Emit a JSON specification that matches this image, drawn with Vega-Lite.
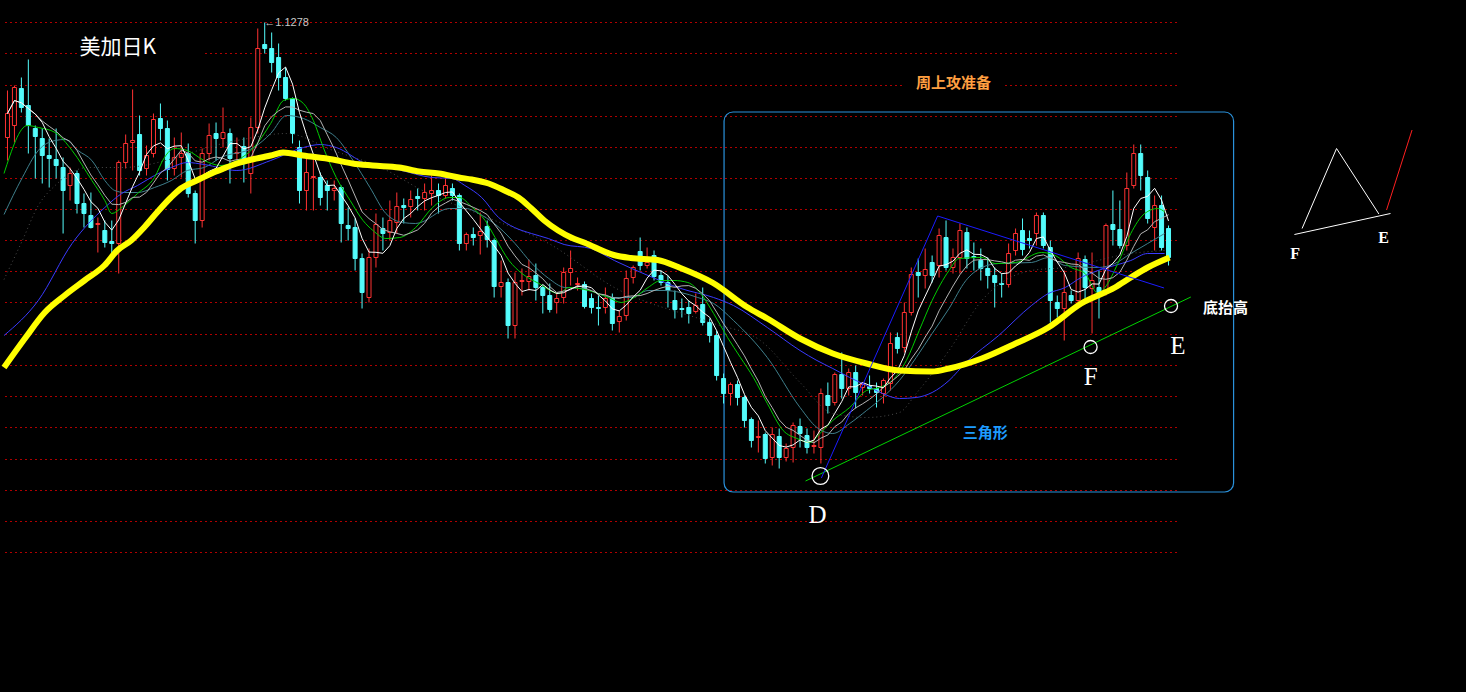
{
  "$schema": "https://vega.github.io/schema/vega-lite/v6.json",
  "width": 1466,
  "height": 692,
  "padding": 0,
  "autosize": {"type": "fit", "contains": "padding"},
  "background": "#000000",
  "config": {"view": {"stroke": null}},
  "resolve": {"scale": {"color": "independent"}},
  "datasets": {
    "candles": [
      {"i":0,"o":1.1048,"h":1.1142,"l":1.1002,"c":1.1096},
      {"i":1,"o":1.1072,"h":1.1152,"l":1.1038,"c":1.1148},
      {"i":2,"o":1.1146,"h":1.1168,"l":1.1098,"c":1.1108},
      {"i":3,"o":1.1112,"h":1.1204,"l":1.1016,"c":1.1072},
      {"i":4,"o":1.1066,"h":1.1072,"l":1.0966,"c":1.1050},
      {"i":5,"o":1.1046,"h":1.1066,"l":1.0956,"c":1.1012},
      {"i":6,"o":1.1012,"h":1.1046,"l":1.0948,"c":1.1006},
      {"i":7,"o":1.1004,"h":1.1066,"l":1.0966,"c":1.0992},
      {"i":8,"o":1.0988,"h":1.1008,"l":1.0856,"c":1.0942},
      {"i":9,"o":1.0952,"h":1.0988,"l":1.0922,"c":1.0976},
      {"i":10,"o":1.0976,"h":1.0982,"l":1.0896,"c":1.0916},
      {"i":11,"o":1.0916,"h":1.0936,"l":1.0868,"c":1.0896},
      {"i":12,"o":1.0892,"h":1.0938,"l":1.0866,"c":1.0868},
      {"i":13,"o":1.0874,"h":1.0888,"l":1.0818,"c":1.0876},
      {"i":14,"o":1.0862,"h":1.0882,"l":1.0828,"c":1.0838},
      {"i":15,"o":1.0840,"h":1.0882,"l":1.0816,"c":1.0836},
      {"i":16,"o":1.0836,"h":1.1002,"l":1.0776,"c":1.0998},
      {"i":17,"o":1.0998,"h":1.1054,"l":1.0986,"c":1.1036},
      {"i":18,"o":1.1038,"h":1.1144,"l":1.0982,"c":1.1042},
      {"i":19,"o":1.1054,"h":1.1092,"l":1.0972,"c":1.0982},
      {"i":20,"o":1.0986,"h":1.1032,"l":1.0972,"c":1.1012},
      {"i":21,"o":1.1016,"h":1.1096,"l":1.1008,"c":1.1084},
      {"i":22,"o":1.1086,"h":1.1116,"l":1.1042,"c":1.1066},
      {"i":23,"o":1.1066,"h":1.1082,"l":1.0962,"c":1.0984},
      {"i":24,"o":1.0986,"h":1.1048,"l":1.0972,"c":1.1008},
      {"i":25,"o":1.1008,"h":1.1058,"l":1.0968,"c":1.1016},
      {"i":26,"o":1.1016,"h":1.1036,"l":1.0928,"c":1.0936},
      {"i":27,"o":1.0936,"h":1.0942,"l":1.0836,"c":1.0882},
      {"i":28,"o":1.0882,"h":1.1026,"l":1.0868,"c":1.1016},
      {"i":29,"o":1.1016,"h":1.1076,"l":1.1002,"c":1.1052},
      {"i":30,"o":1.1056,"h":1.1078,"l":1.1002,"c":1.1046},
      {"i":31,"o":1.1046,"h":1.1108,"l":1.1028,"c":1.1058},
      {"i":32,"o":1.1056,"h":1.1066,"l":1.0956,"c":1.1006},
      {"i":33,"o":1.1016,"h":1.1048,"l":1.1002,"c":1.1018},
      {"i":34,"o":1.1030,"h":1.1048,"l":1.0958,"c":1.0998},
      {"i":35,"o":1.0976,"h":1.1088,"l":1.0936,"c":1.1068},
      {"i":36,"o":1.1068,"h":1.1266,"l":1.1056,"c":1.1226},
      {"i":37,"o":1.1234,"h":1.1278,"l":1.1216,"c":1.1226},
      {"i":38,"o":1.1226,"h":1.1258,"l":1.1178,"c":1.1198},
      {"i":39,"o":1.1208,"h":1.1236,"l":1.1142,"c":1.1168},
      {"i":40,"o":1.1168,"h":1.1188,"l":1.1122,"c":1.1126},
      {"i":41,"o":1.1126,"h":1.1128,"l":1.1036,"c":1.1056},
      {"i":42,"o":1.1028,"h":1.1042,"l":1.0916,"c":1.0942},
      {"i":43,"o":1.0942,"h":1.1016,"l":1.0902,"c":1.0978},
      {"i":44,"o":1.0968,"h":1.1012,"l":1.0902,"c":1.0970},
      {"i":45,"o":1.0968,"h":1.0978,"l":1.0912,"c":1.0928},
      {"i":46,"o":1.0952,"h":1.0962,"l":1.0902,"c":1.0942},
      {"i":47,"o":1.0942,"h":1.0962,"l":1.0922,"c":1.0946},
      {"i":48,"o":1.0948,"h":1.0952,"l":1.0838,"c":1.0876},
      {"i":49,"o":1.0872,"h":1.0908,"l":1.0842,"c":1.0866},
      {"i":50,"o":1.0868,"h":1.0886,"l":1.0782,"c":1.0806},
      {"i":51,"o":1.0806,"h":1.0816,"l":1.0706,"c":1.0738},
      {"i":52,"o":1.0728,"h":1.0826,"l":1.0718,"c":1.0808},
      {"i":53,"o":1.0808,"h":1.0896,"l":1.0788,"c":1.0874},
      {"i":54,"o":1.0866,"h":1.0888,"l":1.0822,"c":1.0856},
      {"i":55,"o":1.0858,"h":1.0922,"l":1.0842,"c":1.0882},
      {"i":56,"o":1.0878,"h":1.0938,"l":1.0856,"c":1.0910},
      {"i":57,"o":1.0912,"h":1.0926,"l":1.0876,"c":1.0908},
      {"i":58,"o":1.0910,"h":1.0942,"l":1.0888,"c":1.0924},
      {"i":59,"o":1.0930,"h":1.0946,"l":1.0902,"c":1.0926},
      {"i":60,"o":1.0926,"h":1.0956,"l":1.0902,"c":1.0938},
      {"i":61,"o":1.0936,"h":1.0972,"l":1.0912,"c":1.0942},
      {"i":62,"o":1.0942,"h":1.0956,"l":1.0896,"c":1.0932},
      {"i":63,"o":1.0932,"h":1.0966,"l":1.0926,"c":1.0952},
      {"i":64,"o":1.0946,"h":1.0956,"l":1.0922,"c":1.0932},
      {"i":65,"o":1.0932,"h":1.0936,"l":1.0822,"c":1.0836},
      {"i":66,"o":1.0836,"h":1.0858,"l":1.0822,"c":1.0854},
      {"i":67,"o":1.0854,"h":1.0868,"l":1.0832,"c":1.0848},
      {"i":68,"o":1.0852,"h":1.0898,"l":1.0814,"c":1.0860},
      {"i":69,"o":1.0870,"h":1.0882,"l":1.0828,"c":1.0844},
      {"i":70,"o":1.0842,"h":1.0846,"l":1.0728,"c":1.0750},
      {"i":71,"o":1.0750,"h":1.0802,"l":1.0728,"c":1.0758},
      {"i":72,"o":1.0758,"h":1.0766,"l":1.0646,"c":1.0672},
      {"i":73,"o":1.0672,"h":1.0778,"l":1.0646,"c":1.0758},
      {"i":74,"o":1.0760,"h":1.0786,"l":1.0732,"c":1.0762},
      {"i":75,"o":1.0760,"h":1.0804,"l":1.0742,"c":1.0770},
      {"i":76,"o":1.0772,"h":1.0796,"l":1.0722,"c":1.0748},
      {"i":77,"o":1.0748,"h":1.0752,"l":1.0696,"c":1.0732},
      {"i":78,"o":1.0732,"h":1.0756,"l":1.0698,"c":1.0704},
      {"i":79,"o":1.0718,"h":1.0738,"l":1.0696,"c":1.0726},
      {"i":80,"o":1.0728,"h":1.0788,"l":1.0716,"c":1.0778},
      {"i":81,"o":1.0778,"h":1.0822,"l":1.0752,"c":1.0786},
      {"i":82,"o":1.0754,"h":1.0768,"l":1.0742,"c":1.0756},
      {"i":83,"o":1.0754,"h":1.0760,"l":1.0706,"c":1.0710},
      {"i":84,"o":1.0726,"h":1.0736,"l":1.0696,"c":1.0708},
      {"i":85,"o":1.0708,"h":1.0732,"l":1.0672,"c":1.0706},
      {"i":86,"o":1.0708,"h":1.0748,"l":1.0696,"c":1.0726},
      {"i":87,"o":1.0728,"h":1.0736,"l":1.0662,"c":1.0676},
      {"i":88,"o":1.0680,"h":1.0702,"l":1.0658,"c":1.0690},
      {"i":89,"o":1.0692,"h":1.0782,"l":1.0682,"c":1.0766},
      {"i":90,"o":1.0768,"h":1.0792,"l":1.0756,"c":1.0788},
      {"i":91,"o":1.0820,"h":1.0848,"l":1.0782,"c":1.0792},
      {"i":92,"o":1.0792,"h":1.0828,"l":1.0786,"c":1.0798},
      {"i":93,"o":1.0812,"h":1.0822,"l":1.0762,"c":1.0770},
      {"i":94,"o":1.0772,"h":1.0782,"l":1.0752,"c":1.0758},
      {"i":95,"o":1.0758,"h":1.0772,"l":1.0708,"c":1.0742},
      {"i":96,"o":1.0722,"h":1.0742,"l":1.0686,"c":1.0704},
      {"i":97,"o":1.0706,"h":1.0726,"l":1.0688,"c":1.0704},
      {"i":98,"o":1.0708,"h":1.0722,"l":1.0676,"c":1.0696},
      {"i":99,"o":1.0700,"h":1.0736,"l":1.0696,"c":1.0712},
      {"i":100,"o":1.0714,"h":1.0748,"l":1.0672,"c":1.0678},
      {"i":101,"o":1.0678,"h":1.0686,"l":1.0638,"c":1.0652},
      {"i":102,"o":1.0652,"h":1.0662,"l":1.0562,"c":1.0572},
      {"i":103,"o":1.0566,"h":1.0576,"l":1.0516,"c":1.0536},
      {"i":104,"o":1.0536,"h":1.0558,"l":1.0512,"c":1.0554},
      {"i":105,"o":1.0554,"h":1.0562,"l":1.0512,"c":1.0528},
      {"i":106,"o":1.0528,"h":1.0532,"l":1.0468,"c":1.0482},
      {"i":107,"o":1.0484,"h":1.0488,"l":1.0428,"c":1.0442},
      {"i":108,"o":1.0448,"h":1.0482,"l":1.0418,"c":1.0450},
      {"i":109,"o":1.0454,"h":1.0458,"l":1.0396,"c":1.0406},
      {"i":110,"o":1.0408,"h":1.0468,"l":1.0392,"c":1.0454},
      {"i":111,"o":1.0450,"h":1.0466,"l":1.0386,"c":1.0408},
      {"i":112,"o":1.0408,"h":1.0436,"l":1.0400,"c":1.0426},
      {"i":113,"o":1.0428,"h":1.0478,"l":1.0398,"c":1.0472},
      {"i":114,"o":1.0470,"h":1.0486,"l":1.0428,"c":1.0456},
      {"i":115,"o":1.0452,"h":1.0466,"l":1.0416,"c":1.0428},
      {"i":116,"o":1.0430,"h":1.0462,"l":1.0416,"c":1.0432},
      {"i":117,"o":1.0428,"h":1.0546,"l":1.0396,"c":1.0536},
      {"i":118,"o":1.0532,"h":1.0558,"l":1.0496,"c":1.0512},
      {"i":119,"o":1.0518,"h":1.0578,"l":1.0512,"c":1.0574},
      {"i":120,"o":1.0574,"h":1.0618,"l":1.0526,"c":1.0546},
      {"i":121,"o":1.0546,"h":1.0586,"l":1.0532,"c":1.0578},
      {"i":122,"o":1.0578,"h":1.0592,"l":1.0506,"c":1.0538},
      {"i":123,"o":1.0548,"h":1.0558,"l":1.0532,"c":1.0554},
      {"i":124,"o":1.0550,"h":1.0572,"l":1.0536,"c":1.0546},
      {"i":125,"o":1.0546,"h":1.0558,"l":1.0508,"c":1.0538},
      {"i":126,"o":1.0536,"h":1.0566,"l":1.0516,"c":1.0562},
      {"i":127,"o":1.0556,"h":1.0658,"l":1.0542,"c":1.0636},
      {"i":128,"o":1.0648,"h":1.0658,"l":1.0616,"c":1.0626},
      {"i":129,"o":1.0628,"h":1.0718,"l":1.0618,"c":1.0698},
      {"i":130,"o":1.0698,"h":1.0788,"l":1.0692,"c":1.0774},
      {"i":131,"o":1.0778,"h":1.0806,"l":1.0728,"c":1.0772},
      {"i":132,"o":1.0772,"h":1.0826,"l":1.0746,"c":1.0784},
      {"i":133,"o":1.0798,"h":1.0812,"l":1.0758,"c":1.0772},
      {"i":134,"o":1.0792,"h":1.0866,"l":1.0768,"c":1.0852},
      {"i":135,"o":1.0848,"h":1.0882,"l":1.0782,"c":1.0788},
      {"i":136,"o":1.0788,"h":1.0826,"l":1.0776,"c":1.0808},
      {"i":137,"o":1.0808,"h":1.0876,"l":1.0776,"c":1.0862},
      {"i":138,"o":1.0858,"h":1.0868,"l":1.0786,"c":1.0806},
      {"i":139,"o":1.0810,"h":1.0838,"l":1.0782,"c":1.0808},
      {"i":140,"o":1.0802,"h":1.0826,"l":1.0762,"c":1.0786},
      {"i":141,"o":1.0786,"h":1.0808,"l":1.0746,"c":1.0772},
      {"i":142,"o":1.0772,"h":1.0788,"l":1.0708,"c":1.0758},
      {"i":143,"o":1.0756,"h":1.0776,"l":1.0728,"c":1.0754},
      {"i":144,"o":1.0754,"h":1.0836,"l":1.0748,"c":1.0816},
      {"i":145,"o":1.0822,"h":1.0866,"l":1.0812,"c":1.0856},
      {"i":146,"o":1.0862,"h":1.0886,"l":1.0812,"c":1.0824},
      {"i":147,"o":1.0846,"h":1.0862,"l":1.0826,"c":1.0842},
      {"i":148,"o":1.0856,"h":1.0898,"l":1.0832,"c":1.0892},
      {"i":149,"o":1.0892,"h":1.0898,"l":1.0826,"c":1.0832},
      {"i":150,"o":1.0828,"h":1.0842,"l":1.0678,"c":1.0722},
      {"i":151,"o":1.0718,"h":1.0732,"l":1.0688,"c":1.0706},
      {"i":152,"o":1.0706,"h":1.0782,"l":1.0642,"c":1.0738},
      {"i":153,"o":1.0732,"h":1.0742,"l":1.0716,"c":1.0722},
      {"i":154,"o":1.0722,"h":1.0818,"l":1.0716,"c":1.0806},
      {"i":155,"o":1.0804,"h":1.0812,"l":1.0716,"c":1.0748},
      {"i":156,"o":1.0746,"h":1.0818,"l":1.0656,"c":1.0762},
      {"i":157,"o":1.0748,"h":1.0782,"l":1.0686,"c":1.0736},
      {"i":158,"o":1.0742,"h":1.0876,"l":1.0732,"c":1.0872},
      {"i":159,"o":1.0874,"h":1.0942,"l":1.0832,"c":1.0864},
      {"i":160,"o":1.0864,"h":1.0922,"l":1.0826,"c":1.0832},
      {"i":161,"o":1.0832,"h":1.0978,"l":1.0822,"c":1.0946},
      {"i":162,"o":1.0952,"h":1.1034,"l":1.0946,"c":1.1016},
      {"i":163,"o":1.1016,"h":1.1034,"l":1.0942,"c":1.0972},
      {"i":164,"o":1.0968,"h":1.0982,"l":1.0876,"c":1.0886},
      {"i":165,"o":1.0868,"h":1.0932,"l":1.0822,"c":1.0912},
      {"i":166,"o":1.0912,"h":1.0932,"l":1.0822,"c":1.0828},
      {"i":167,"o":1.0866,"h":1.0872,"l":1.0792,"c":1.0808}
    ],
    "ma": [
      {"s":"y","i":-0.5,"p":1.0588},{"s":"y","i":2.5,"p":1.0646},{"s":"y","i":5.36,"p":1.0698},{"s":"y","i":8.21,"p":1.0732},{"s":"y","i":11.07,"p":1.0762},{"s":"y","i":13.93,"p":1.0792},{"s":"y","i":15.79,"p":1.0822},{"s":"y","i":17.79,"p":1.0842},{"s":"y","i":19.64,"p":1.0868},{"s":"y","i":21.5,"p":1.0898},{"s":"y","i":23.5,"p":1.0928},{"s":"y","i":24.93,"p":1.0946},{"s":"y","i":27.21,"p":1.0962},{"s":"y","i":29.64,"p":1.0978},{"s":"y","i":31.07,"p":1.0986},{"s":"y","i":33,"p":1.0996},{"s":"y","i":37.86,"p":1.1012},{"s":"y","i":39.64,"p":1.1018},{"s":"y","i":42.5,"p":1.1012},{"s":"y","i":46.79,"p":1.1004},{"s":"y","i":49.64,"p":1.0996},{"s":"y","i":52.5,"p":1.0992},{"s":"y","i":56.36,"p":1.0988},{"s":"y","i":59.21,"p":1.0980},{"s":"y","i":62.07,"p":1.0976},{"s":"y","i":64.93,"p":1.0968},{"s":"y","i":66.79,"p":1.0964},{"s":"y","i":69.21,"p":1.0956},{"s":"y","i":71.5,"p":1.0942},{"s":"y","i":73.5,"p":1.0928},{"s":"y","i":75.36,"p":1.0906},{"s":"y","i":77.21,"p":1.0882},{"s":"y","i":79.21,"p":1.0862},{"s":"y","i":81.07,"p":1.0848},{"s":"y","i":82.93,"p":1.0838},{"s":"y","i":87.21,"p":1.0813},{"s":"y","i":89.64,"p":1.0807},{"s":"y","i":93.5,"p":1.0803},{"s":"y","i":96.79,"p":1.0787},{"s":"y","i":101.5,"p":1.0757},{"s":"y","i":106.36,"p":1.0709},{"s":"y","i":109.29,"p":1.0686},{"s":"y","i":114,"p":1.0646},{"s":"y","i":118.71,"p":1.0616},{"s":"y","i":123.57,"p":1.0596},{"s":"y","i":128.29,"p":1.0582},{"s":"y","i":133,"p":1.0580},{"s":"y","i":135.43,"p":1.0586},{"s":"y","i":140.14,"p":1.0606},{"s":"y","i":145,"p":1.0636},{"s":"y","i":149.71,"p":1.0668},{"s":"y","i":154.43,"p":1.0716},{"s":"y","i":159.29,"p":1.0748},{"s":"y","i":161.57,"p":1.0768},{"s":"y","i":164,"p":1.0788},{"s":"y","i":167.14,"p":1.0808},
      {"s":"b","i":-0.5,"p":1.0652},{"s":"b","i":4.43,"p":1.0722},{"s":"b","i":9.29,"p":1.0836},{"s":"b","i":14,"p":1.0908},{"s":"b","i":16.43,"p":1.0936},{"s":"b","i":18.71,"p":1.0952},{"s":"b","i":21.14,"p":1.0972},{"s":"b","i":23.57,"p":1.0988},{"s":"b","i":25.86,"p":1.0998},{"s":"b","i":28.29,"p":1.0994},{"s":"b","i":33,"p":1.0982},{"s":"b","i":37.86,"p":1.1002},{"s":"b","i":42.57,"p":1.1028},{"s":"b","i":45,"p":1.1034},{"s":"b","i":47.29,"p":1.1028},{"s":"b","i":51.5,"p":1.0996},{"s":"b","i":56.36,"p":1.0983},{"s":"b","i":61.07,"p":1.0968},{"s":"b","i":63.93,"p":1.0966},{"s":"b","i":65.79,"p":1.0952},{"s":"b","i":68.21,"p":1.0928},{"s":"b","i":70.64,"p":1.0888},{"s":"b","i":72.93,"p":1.0868},{"s":"b","i":75.36,"p":1.0856},{"s":"b","i":77.79,"p":1.0846},{"s":"b","i":80.07,"p":1.0834},{"s":"b","i":83.93,"p":1.0826},{"s":"b","i":87.29,"p":1.0802},{"s":"b","i":92.14,"p":1.0772},{"s":"b","i":96.86,"p":1.0746},{"s":"b","i":101.57,"p":1.0728},{"s":"b","i":104.43,"p":1.0712},{"s":"b","i":109.29,"p":1.0668},{"s":"b","i":114,"p":1.0622},{"s":"b","i":116.43,"p":1.0602},{"s":"b","i":118.71,"p":1.0586},{"s":"b","i":121.14,"p":1.0568},{"s":"b","i":123.57,"p":1.0552},{"s":"b","i":125.86,"p":1.0536},{"s":"b","i":128.29,"p":1.0526},{"s":"b","i":130.71,"p":1.0528},{"s":"b","i":133,"p":1.0538},{"s":"b","i":135.43,"p":1.0562},{"s":"b","i":137.86,"p":1.0598},{"s":"b","i":142.57,"p":1.0652},{"s":"b","i":147.29,"p":1.0712},{"s":"b","i":149.71,"p":1.0736},{"s":"b","i":152.14,"p":1.0748},{"s":"b","i":154.43,"p":1.0768},{"s":"b","i":156.86,"p":1.0782},{"s":"b","i":161.57,"p":1.0802},{"s":"b","i":164,"p":1.0816},{"s":"b","i":166.43,"p":1.0816},
      {"s":"g","i":-0.5,"p":1.0976},{"s":"g","i":2.86,"p":1.1072},{"s":"g","i":4.43,"p":1.1068},{"s":"g","i":6.86,"p":1.1058},{"s":"g","i":9.29,"p":1.1022},{"s":"g","i":12.14,"p":1.0962},{"s":"g","i":14,"p":1.0922},{"s":"g","i":15,"p":1.0896},{"s":"g","i":16.43,"p":1.0908},{"s":"g","i":18.71,"p":1.0936},{"s":"g","i":21.14,"p":1.0968},{"s":"g","i":22.57,"p":1.1008},{"s":"g","i":24,"p":1.1026},{"s":"g","i":25.86,"p":1.1022},{"s":"g","i":28.29,"p":1.1002},{"s":"g","i":30.71,"p":1.0992},{"s":"g","i":33,"p":1.1002},{"s":"g","i":35.43,"p":1.1028},{"s":"g","i":37.86,"p":1.1076},{"s":"g","i":39.71,"p":1.1122},{"s":"g","i":41.14,"p":1.1126},{"s":"g","i":42.57,"p":1.1116},{"s":"g","i":44,"p":1.1082},{"s":"g","i":45.43,"p":1.1028},{"s":"g","i":47.29,"p":1.0968},{"s":"g","i":49.29,"p":1.0922},{"s":"g","i":51.14,"p":1.0882},{"s":"g","i":52.57,"p":1.0862},{"s":"g","i":54.43,"p":1.0846},{"s":"g","i":56.43,"p":1.0848},{"s":"g","i":58.71,"p":1.0868},{"s":"g","i":61.14,"p":1.0908},{"s":"g","i":63.57,"p":1.0928},{"s":"g","i":65,"p":1.0928},{"s":"g","i":66.86,"p":1.0908},{"s":"g","i":68.71,"p":1.0882},{"s":"g","i":70.14,"p":1.0848},{"s":"g","i":72.14,"p":1.0802},{"s":"g","i":74,"p":1.0776},{"s":"g","i":76.43,"p":1.0756},{"s":"g","i":79.29,"p":1.0736},{"s":"g","i":80.71,"p":1.0748},{"s":"g","i":83.57,"p":1.0742},{"s":"g","i":86.43,"p":1.0728},{"s":"g","i":88.29,"p":1.0718},{"s":"g","i":90.14,"p":1.0728},{"s":"g","i":92.14,"p":1.0748},{"s":"g","i":94,"p":1.0762},{"s":"g","i":95.86,"p":1.0762},{"s":"g","i":97.86,"p":1.0758},{"s":"g","i":99.71,"p":1.0736},{"s":"g","i":101.57,"p":1.0696},{"s":"g","i":103.57,"p":1.0648},{"s":"g","i":105.43,"p":1.0608},{"s":"g","i":107.29,"p":1.0568},{"s":"g","i":109.29,"p":1.0516},{"s":"g","i":111.57,"p":1.0462},{"s":"g","i":113.57,"p":1.0446},{"s":"g","i":115.43,"p":1.0438},{"s":"g","i":116.86,"p":1.0456},{"s":"g","i":118.71,"p":1.0482},{"s":"g","i":121.14,"p":1.0508},{"s":"g","i":123.57,"p":1.0542},{"s":"g","i":125.43,"p":1.0548},{"s":"g","i":127.29,"p":1.0562},{"s":"g","i":129.29,"p":1.0602},{"s":"g","i":131.14,"p":1.0662},{"s":"g","i":133,"p":1.0722},{"s":"g","i":135.43,"p":1.0782},{"s":"g","i":136.86,"p":1.0806},{"s":"g","i":140.14,"p":1.0808},{"s":"g","i":142.14,"p":1.0796},{"s":"g","i":145,"p":1.0798},{"s":"g","i":148.71,"p":1.0818},{"s":"g","i":150.71,"p":1.0812},{"s":"g","i":153,"p":1.0788},{"s":"g","i":155,"p":1.0776},{"s":"g","i":156.86,"p":1.0736},{"s":"g","i":157.86,"p":1.0748},{"s":"g","i":159.71,"p":1.0796},{"s":"g","i":161.57,"p":1.0856},{"s":"g","i":163.57,"p":1.0896},{"s":"g","i":165.43,"p":1.0906},{"s":"g","i":166.57,"p":1.0898},
      {"s":"t","i":-0.5,"p":1.0894},{"s":"t","i":2.14,"p":1.0968},{"s":"t","i":4.43,"p":1.1022},{"s":"t","i":6.86,"p":1.1042},{"s":"t","i":8.29,"p":1.1044},{"s":"t","i":10.14,"p":1.1022},{"s":"t","i":12.14,"p":1.1002},{"s":"t","i":14,"p":1.0962},{"s":"t","i":15.43,"p":1.0942},{"s":"t","i":16.86,"p":1.0938},{"s":"t","i":18.71,"p":1.0938},{"s":"t","i":21.14,"p":1.0948},{"s":"t","i":23.57,"p":1.0962},{"s":"t","i":25.86,"p":1.0982},{"s":"t","i":28.29,"p":1.0988},{"s":"t","i":30.71,"p":1.1008},{"s":"t","i":35.43,"p":1.1028},{"s":"t","i":37.86,"p":1.1056},{"s":"t","i":40.14,"p":1.1092},{"s":"t","i":42.57,"p":1.1086},{"s":"t","i":45,"p":1.1068},{"s":"t","i":47.29,"p":1.1048},{"s":"t","i":49.71,"p":1.1002},{"s":"t","i":52.14,"p":1.0948},{"s":"t","i":54.43,"p":1.0896},{"s":"t","i":56.86,"p":1.0878},{"s":"t","i":58.71,"p":1.0876},{"s":"t","i":63.57,"p":1.0906},{"s":"t","i":65.86,"p":1.0906},{"s":"t","i":68.29,"p":1.0892},{"s":"t","i":70.71,"p":1.0868},{"s":"t","i":73,"p":1.0836},{"s":"t","i":75.43,"p":1.0796},{"s":"t","i":77.86,"p":1.0766},{"s":"t","i":80.14,"p":1.0748},{"s":"t","i":82.57,"p":1.0746},{"s":"t","i":87.29,"p":1.0728},{"s":"t","i":89.71,"p":1.0728},{"s":"t","i":92.14,"p":1.0742},{"s":"t","i":94.43,"p":1.0742},{"s":"t","i":96.86,"p":1.0738},{"s":"t","i":99.29,"p":1.0728},{"s":"t","i":101.57,"p":1.0716},{"s":"t","i":104.43,"p":1.0682},{"s":"t","i":109.29,"p":1.0608},{"s":"t","i":114,"p":1.0508},{"s":"t","i":116.43,"p":1.0468},{"s":"t","i":118.71,"p":1.0456},{"s":"t","i":121.14,"p":1.0476},{"s":"t","i":123.57,"p":1.0502},{"s":"t","i":125.86,"p":1.0528},{"s":"t","i":128.29,"p":1.0562},{"s":"t","i":130.71,"p":1.0608},{"s":"t","i":133,"p":1.0656},{"s":"t","i":135.43,"p":1.0706},{"s":"t","i":137.86,"p":1.0762},{"s":"t","i":140.14,"p":1.0788},{"s":"t","i":142.57,"p":1.0796},{"s":"t","i":147.29,"p":1.0798},{"s":"t","i":149.71,"p":1.0808},{"s":"t","i":152.14,"p":1.0792},{"s":"t","i":156.86,"p":1.0788},{"s":"t","i":159.29,"p":1.0796},{"s":"t","i":161.57,"p":1.0816},{"s":"t","i":164,"p":1.0836},{"s":"t","i":166.43,"p":1.0856},
      {"s":"d","i":-0.5,"p":1.0764},{"s":"d","i":2.14,"p":1.0842},{"s":"d","i":4.43,"p":1.0912},{"s":"d","i":6.86,"p":1.0952},{"s":"d","i":11.57,"p":1.0988},{"s":"d","i":16.43,"p":1.0988},{"s":"d","i":33,"p":1.1042},{"s":"d","i":40.14,"p":1.1056},{"s":"d","i":46.86,"p":1.1022},{"s":"d","i":54,"p":1.0986},{"s":"d","i":59.71,"p":1.0942},{"s":"d","i":68.29,"p":1.0892},{"s":"d","i":77.86,"p":1.0836},{"s":"d","i":87.29,"p":1.0748},{"s":"d","i":101.57,"p":1.0676},{"s":"d","i":108.29,"p":1.0642},{"s":"d","i":114,"p":1.0558},{"s":"d","i":118.71,"p":1.0496},{"s":"d","i":123.57,"p":1.0488},{"s":"d","i":128.29,"p":1.0498},{"s":"d","i":130.71,"p":1.0536},{"s":"d","i":135.43,"p":1.0622},{"s":"d","i":140.14,"p":1.0722},{"s":"d","i":147.29,"p":1.0782},{"s":"d","i":152.14,"p":1.0788},{"s":"d","i":161.57,"p":1.0816},{"s":"d","i":166.43,"p":1.0822}
    ],
    "ann": [
      {"g":"gl","k":0,"i":114.79,"p":1.0361},{"g":"gl","k":1,"i":170.21,"p":1.0729},
      {"g":"bl","k":0,"i":117.07,"p":1.0367},{"g":"bl","k":1,"i":133.79,"p":1.0891},{"g":"bl","k":2,"i":166.36,"p":1.0747},
      {"g":"t1","k":0,"i":186.21,"p":1.0866},{"g":"t1","k":1,"i":191.17,"p":1.1026},{"g":"t1","k":2,"i":197.26,"p":1.0895},
      {"g":"t2","k":0,"i":185.11,"p":1.0854},{"g":"t2","k":1,"i":198.93,"p":1.0896},
      {"g":"rd","k":0,"i":198.36,"p":1.0903},{"g":"rd","k":1,"i":202.03,"p":1.1063}
    ],
    "grid": [
      {"p":1.1278},{"p":1.1216},{"p":1.1152},{"p":1.1090},{"p":1.1028},{"p":1.0966},{"p":1.0904},{"p":1.0842},{"p":1.0780},
      {"p":1.0718},{"p":1.0654},{"p":1.0592},{"p":1.0530},{"p":1.0468},{"p":1.0404},{"p":1.0342},{"p":1.0280},{"p":1.0218}
    ],
    "circles": [
      {"n":"D","i":116.93,"p":1.0371},
      {"n":"F","i":155.79,"p":1.0629},
      {"n":"E","i":167.36,"p":1.0711}
    ]
  },
  "layer": [
    {
      "data": {"name": "grid"},
      "mark": {"type": "rule", "color": "#b00000", "strokeWidth": 1, "strokeDash": [2, 3], "clip": true},
      "encoding": {
        "x": {"datum": -0.357, "type": "quantitative", "scale": {"domain": [-0.357, 209.07], "nice": false, "zero": false}, "axis": null},
        "x2": {"datum": 168.64},
        "y": {"field": "p", "type": "quantitative", "scale": {"domain": [0.9939, 1.1323], "nice": false, "zero": false}, "axis": null}
      }
    },
    {
      "data": {"values": [{"x1": 10.07, "x2": 28.21, "y1": 1.1253, "y2": 1.1203}, {"x1": 128.93, "x2": 143.21, "y1": 1.1175, "y2": 1.1137}, {"x1": 136.79, "x2": 144.64, "y1": 1.0477, "y2": 1.0435}]},
      "mark": {"type": "rect", "fill": "#000000", "clip": true},
      "encoding": {
        "x": {"field": "x1", "type": "quantitative", "scale": {"domain": [-0.357, 209.07], "nice": false, "zero": false}, "axis": null},
        "x2": {"field": "x2"},
        "y": {"field": "y1", "type": "quantitative", "scale": {"domain": [0.9939, 1.1323], "nice": false, "zero": false}, "axis": null},
        "y2": {"field": "y2"}
      }
    },
    {
      "data": {"values": [{}]},
      "mark": {"type": "rect", "fill": "transparent", "stroke": "#2a92dc", "strokeWidth": 1.2, "cornerRadius": 9},
      "encoding": {
        "x": {"datum": 103.07, "type": "quantitative", "scale": {"domain": [-0.357, 209.07], "nice": false, "zero": false}, "axis": null},
        "x2": {"datum": 176.36},
        "y": {"datum": 1.1099, "type": "quantitative", "scale": {"domain": [0.9939, 1.1323], "nice": false, "zero": false}, "axis": null},
        "y2": {"datum": 1.0339}
      }
    },
    {
      "data": {"name": "candles"},
      "mark": {"type": "rule", "strokeWidth": 1, "clip": true},
      "encoding": {
        "x": {"field": "i", "type": "quantitative", "scale": {"domain": [-0.357, 209.07], "nice": false, "zero": false}, "axis": null},
        "y": {"field": "h", "type": "quantitative", "scale": {"domain": [0.9939, 1.1323], "nice": false, "zero": false}, "axis": null},
        "y2": {"field": "l"},
        "color": {"condition": {"test": "datum.c > datum.o", "value": "#ff3232"}, "value": "#54fcfc"}
      }
    },
    {
      "data": {"name": "candles"},
      "mark": {"type": "bar", "size": 4, "strokeWidth": 1, "clip": true},
      "encoding": {
        "x": {"field": "i", "type": "quantitative", "scale": {"domain": [-0.357, 209.07], "nice": false, "zero": false}, "axis": null},
        "y": {"field": "o", "type": "quantitative", "scale": {"domain": [0.9939, 1.1323], "nice": false, "zero": false}, "axis": null},
        "y2": {"field": "c"},
        "fill": {"condition": {"test": "datum.c > datum.o", "value": "#000000"}, "value": "#54fcfc"},
        "stroke": {"condition": {"test": "datum.c > datum.o", "value": "#ff3232"}, "value": "#54fcfc"}
      }
    },
    {
      "data": {"name": "ma"},
      "transform": [{"filter": "datum.s == 'd'"}],
      "mark": {"type": "line", "color": "#4a4a4a", "strokeWidth": 1, "strokeDash": [1, 3], "interpolate": "monotone", "clip": true},
      "encoding": {
        "x": {"field": "i", "type": "quantitative", "scale": {"domain": [-0.357, 209.07], "nice": false, "zero": false}, "axis": null},
        "y": {"field": "p", "type": "quantitative", "scale": {"domain": [0.9939, 1.1323], "nice": false, "zero": false}, "axis": null}
      }
    },
    {
      "data": {"name": "ma"},
      "transform": [{"filter": "datum.s == 't'"}],
      "mark": {"type": "line", "color": "#3f7f8c", "strokeWidth": 1, "interpolate": "monotone", "clip": true},
      "encoding": {
        "x": {"field": "i", "type": "quantitative", "scale": {"domain": [-0.357, 209.07], "nice": false, "zero": false}, "axis": null},
        "y": {"field": "p", "type": "quantitative", "scale": {"domain": [0.9939, 1.1323], "nice": false, "zero": false}, "axis": null}
      }
    },
    {
      "data": {"name": "ma"},
      "transform": [{"filter": "datum.s == 'b'"}],
      "mark": {"type": "line", "color": "#3a3aff", "strokeWidth": 1, "interpolate": "monotone", "clip": true},
      "encoding": {
        "x": {"field": "i", "type": "quantitative", "scale": {"domain": [-0.357, 209.07], "nice": false, "zero": false}, "axis": null},
        "y": {"field": "p", "type": "quantitative", "scale": {"domain": [0.9939, 1.1323], "nice": false, "zero": false}, "axis": null}
      }
    },
    {
      "data": {"name": "ma"},
      "transform": [{"filter": "datum.s == 'g'"}],
      "mark": {"type": "line", "color": "#00cc00", "strokeWidth": 1, "interpolate": "monotone", "clip": true},
      "encoding": {
        "x": {"field": "i", "type": "quantitative", "scale": {"domain": [-0.357, 209.07], "nice": false, "zero": false}, "axis": null},
        "y": {"field": "p", "type": "quantitative", "scale": {"domain": [0.9939, 1.1323], "nice": false, "zero": false}, "axis": null}
      }
    },
    {
      "data": {"name": "candles"},
      "transform": [{"window": [{"op": "mean", "field": "c", "as": "m"}], "frame": [-9, 0], "sort": [{"field": "i"}]}],
      "mark": {"type": "line", "color": "#b4b4b4", "strokeWidth": 1, "clip": true},
      "encoding": {
        "x": {"field": "i", "type": "quantitative", "scale": {"domain": [-0.357, 209.07], "nice": false, "zero": false}, "axis": null},
        "y": {"field": "m", "type": "quantitative", "scale": {"domain": [0.9939, 1.1323], "nice": false, "zero": false}, "axis": null}
      }
    },
    {
      "data": {"name": "candles"},
      "transform": [{"window": [{"op": "mean", "field": "c", "as": "m"}], "frame": [-4, 0], "sort": [{"field": "i"}]}],
      "mark": {"type": "line", "color": "#ffffff", "strokeWidth": 1, "clip": true},
      "encoding": {
        "x": {"field": "i", "type": "quantitative", "scale": {"domain": [-0.357, 209.07], "nice": false, "zero": false}, "axis": null},
        "y": {"field": "m", "type": "quantitative", "scale": {"domain": [0.9939, 1.1323], "nice": false, "zero": false}, "axis": null}
      }
    },
    {
      "data": {"name": "ma"},
      "transform": [{"filter": "datum.s == 'y'"}],
      "mark": {"type": "line", "color": "#ffff00", "strokeWidth": 6, "interpolate": "monotone", "clip": true},
      "encoding": {
        "x": {"field": "i", "type": "quantitative", "scale": {"domain": [-0.357, 209.07], "nice": false, "zero": false}, "axis": null},
        "y": {"field": "p", "type": "quantitative", "scale": {"domain": [0.9939, 1.1323], "nice": false, "zero": false}, "axis": null}
      }
    },
    {
      "data": {"name": "ann"},
      "mark": {"type": "line", "strokeWidth": 1, "clip": true},
      "encoding": {
        "x": {"field": "i", "type": "quantitative", "scale": {"domain": [-0.357, 209.07], "nice": false, "zero": false}, "axis": null},
        "y": {"field": "p", "type": "quantitative", "scale": {"domain": [0.9939, 1.1323], "nice": false, "zero": false}, "axis": null},
        "detail": {"field": "g"},
        "order": {"field": "k"},
        "color": {"field": "g", "type": "nominal", "scale": {"domain": ["gl", "bl", "t1", "t2", "rd"], "range": ["#00d200", "#1c1cff", "#ffffff", "#ffffff", "#ff2020"]}, "legend": null}
      }
    },
    {
      "data": {"name": "circles"},
      "mark": {"type": "point", "shape": "circle", "filled": false, "stroke": "#ffffff", "strokeWidth": 1.3, "opacity": 1, "clip": true},
      "encoding": {
        "x": {"field": "i", "type": "quantitative", "scale": {"domain": [-0.357, 209.07], "nice": false, "zero": false}, "axis": null},
        "y": {"field": "p", "type": "quantitative", "scale": {"domain": [0.9939, 1.1323], "nice": false, "zero": false}, "axis": null},
        "size": {"condition": {"test": "datum.n == 'D'", "value": 280}, "value": 170}
      }
    },
    {
      "data": {"values": [{}]},
      "mark": {"type": "text", "text": "美加日K", "font": "Noto Sans CJK SC", "fontSize": 21, "color": "#ffffff", "align": "left", "baseline": "middle"},
      "encoding": {
        "x": {"datum": 10.36, "type": "quantitative", "scale": {"domain": [-0.357, 209.07], "nice": false, "zero": false}, "axis": null},
        "y": {"datum": 1.1227, "type": "quantitative", "scale": {"domain": [0.9939, 1.1323], "nice": false, "zero": false}, "axis": null}
      }
    },
    {
      "data": {"values": [{}]},
      "mark": {"type": "text", "text": "←1.1278", "font": "Liberation Sans", "fontSize": 11, "color": "#c8c8c8", "align": "left", "baseline": "middle"},
      "encoding": {
        "x": {"datum": 36.93, "type": "quantitative", "scale": {"domain": [-0.357, 209.07], "nice": false, "zero": false}, "axis": null},
        "y": {"datum": 1.1278, "type": "quantitative", "scale": {"domain": [0.9939, 1.1323], "nice": false, "zero": false}, "axis": null}
      }
    },
    {
      "data": {"values": [{}]},
      "mark": {"type": "text", "text": "周上攻准备", "font": "Noto Sans CJK SC", "fontSize": 15, "fontWeight": "bold", "color": "#ff9f40", "align": "center", "baseline": "middle"},
      "encoding": {
        "x": {"datum": 136.07, "type": "quantitative", "scale": {"domain": [-0.357, 209.07], "nice": false, "zero": false}, "axis": null},
        "y": {"datum": 1.1157, "type": "quantitative", "scale": {"domain": [0.9939, 1.1323], "nice": false, "zero": false}, "axis": null}
      }
    },
    {
      "data": {"values": [{}]},
      "mark": {"type": "text", "text": "三角形", "font": "Noto Sans CJK SC", "fontSize": 15, "fontWeight": "bold", "color": "#1e9bff", "align": "center", "baseline": "middle"},
      "encoding": {
        "x": {"datum": 140.64, "type": "quantitative", "scale": {"domain": [-0.357, 209.07], "nice": false, "zero": false}, "axis": null},
        "y": {"datum": 1.0457, "type": "quantitative", "scale": {"domain": [0.9939, 1.1323], "nice": false, "zero": false}, "axis": null}
      }
    },
    {
      "data": {"values": [{}]},
      "mark": {"type": "text", "text": "底抬高", "font": "Noto Sans CJK SC", "fontSize": 15, "fontWeight": "bold", "color": "#ffffff", "align": "center", "baseline": "middle"},
      "encoding": {
        "x": {"datum": 175.21, "type": "quantitative", "scale": {"domain": [-0.357, 209.07], "nice": false, "zero": false}, "axis": null},
        "y": {"datum": 1.0707, "type": "quantitative", "scale": {"domain": [0.9939, 1.1323], "nice": false, "zero": false}, "axis": null}
      }
    },
    {
      "data": {"values": [{"t": "D", "i": 116.5, "p": 1.0293}, {"t": "F", "i": 155.79, "p": 1.0569}, {"t": "E", "i": 168.36, "p": 1.0631}]},
      "mark": {"type": "text", "font": "Liberation Serif", "fontSize": 25, "color": "#ffffff", "align": "center", "baseline": "middle"},
      "encoding": {
        "x": {"field": "i", "type": "quantitative", "scale": {"domain": [-0.357, 209.07], "nice": false, "zero": false}, "axis": null},
        "y": {"field": "p", "type": "quantitative", "scale": {"domain": [0.9939, 1.1323], "nice": false, "zero": false}, "axis": null},
        "text": {"field": "t"}
      }
    },
    {
      "data": {"values": [{"t": "F", "i": 185.21, "p": 1.0815}, {"t": "E", "i": 197.93, "p": 1.0847}]},
      "mark": {"type": "text", "font": "Liberation Serif", "fontSize": 16, "fontWeight": "bold", "color": "#ffffff", "align": "center", "baseline": "middle"},
      "encoding": {
        "x": {"field": "i", "type": "quantitative", "scale": {"domain": [-0.357, 209.07], "nice": false, "zero": false}, "axis": null},
        "y": {"field": "p", "type": "quantitative", "scale": {"domain": [0.9939, 1.1323], "nice": false, "zero": false}, "axis": null},
        "text": {"field": "t"}
      }
    }
  ]
}
